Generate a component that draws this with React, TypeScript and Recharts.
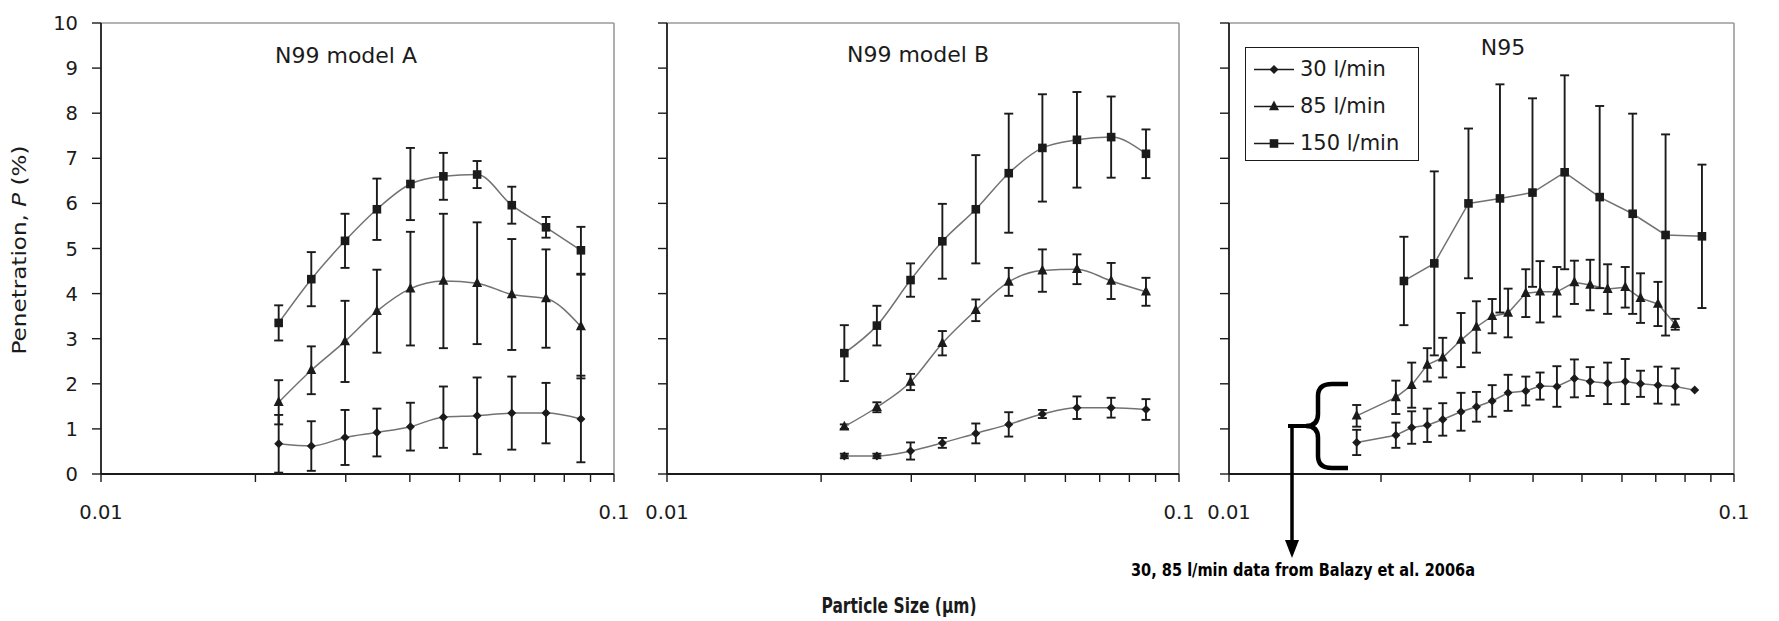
import React from 'react';
import { LineChart, Line, XAxis, YAxis, ErrorBar, ReferenceLine, Legend } from 'recharts';

// particle sizes (µm) – panels A and B share the same SMPS channels
const sizesAB = [0.0222, 0.0257, 0.0299, 0.0345, 0.0401, 0.0465, 0.0541, 0.0632, 0.0737, 0.0862];
// N95 panel: 150 l/min channels and the denser 30/85 l/min channels (Balazy et al.)
const sizesC150 = [0.0222, 0.0255, 0.0298, 0.0344, 0.0399, 0.0462, 0.0542, 0.063, 0.0732, 0.0864];
const sizesC = [
  0.0179, 0.0214, 0.023, 0.0247, 0.0265, 0.0288, 0.0309, 0.0332, 0.0357, 0.0387,
  0.0413, 0.0446, 0.0483, 0.0519, 0.0562, 0.0609, 0.0653, 0.0707, 0.0765, 0.0836,
];

// N99 model A
const aP30 = [0.67, 0.62, 0.81, 0.92, 1.05, 1.26, 1.29, 1.35, 1.35, 1.22];
const aE30 = [0.64, 0.55, 0.61, 0.53, 0.53, 0.68, 0.85, 0.81, 0.67, 0.96];
const aP85 = [1.59, 2.3, 2.94, 3.61, 4.11, 4.28, 4.23, 3.98, 3.89, 3.27];
const aE85 = [0.49, 0.53, 0.9, 0.92, 1.26, 1.49, 1.35, 1.23, 1.09, 1.15];
const aP150 = [3.35, 4.32, 5.17, 5.87, 6.43, 6.6, 6.64, 5.96, 5.47, 4.96];
const aE150 = [0.39, 0.6, 0.6, 0.68, 0.8, 0.52, 0.3, 0.41, 0.23, 0.52];

// N99 model B
const bP30 = [0.4, 0.4, 0.51, 0.69, 0.9, 1.1, 1.33, 1.47, 1.47, 1.43];
const bE30 = [0.05, 0.05, 0.19, 0.11, 0.22, 0.27, 0.09, 0.25, 0.22, 0.23];
const bP85 = [1.05, 1.48, 2.04, 2.9, 3.63, 4.26, 4.51, 4.54, 4.28, 4.04];
const bE85 = [0.05, 0.11, 0.18, 0.27, 0.24, 0.31, 0.47, 0.33, 0.4, 0.31];
const bP150 = [2.68, 3.29, 4.3, 5.16, 5.87, 6.67, 7.23, 7.41, 7.47, 7.1];
const bE150 = [0.62, 0.44, 0.37, 0.83, 1.2, 1.32, 1.19, 1.06, 0.9, 0.54];

// N95
const cP30 = [
  0.7, 0.86, 1.03, 1.08, 1.21, 1.38, 1.49, 1.62, 1.8, 1.84,
  1.95, 1.94, 2.12, 2.05, 2.01, 2.05, 2.0, 1.97, 1.94, 1.86,
];
const cE30 = [
  0.28, 0.28, 0.36, 0.37, 0.36, 0.42, 0.33, 0.35, 0.4, 0.32,
  0.3, 0.45, 0.42, 0.32, 0.46, 0.5, 0.29, 0.41, 0.4, 0,
];
const cP85 = [
  1.29, 1.7, 1.97, 2.42, 2.58, 2.97, 3.26, 3.5, 3.57, 4.01,
  4.04, 4.04, 4.25, 4.19, 4.1, 4.14, 3.9, 3.77, 3.32,
];
const cE85 = [
  0.24, 0.37, 0.5, 0.37, 0.44, 0.6, 0.57, 0.38, 0.54, 0.53,
  0.68, 0.55, 0.48, 0.56, 0.55, 0.45, 0.55, 0.49, 0.12,
];
const cP150 = [4.28, 4.67, 6.0, 6.11, 6.24, 6.69, 6.14, 5.77, 5.3, 5.27];
const cE150 = [0.98, 2.04, 1.66, 2.53, 2.09, 2.15, 2.02, 2.22, 2.23, 1.59];

const flowNames = ['30 l/min', '85 l/min', '150 l/min'];
const xTicks = [0.01, 0.02, 0.03, 0.04, 0.05, 0.06, 0.07, 0.08, 0.09, 0.1];
const xLabelled = [0.01, 0.1];
const yTicks = [0, 1, 2, 3, 4, 5, 6, 7, 8, 9, 10];

const FONT = '"DejaVu Sans", Arial, sans-serif';
const NARROW = '"Liberation Sans Narrow", "DejaVu Sans Condensed", sans-serif';
const INK = '#1b1b1b';
const LINE = '#727272';
const FRAME = '#9a9a9a';

type Kind = 'diamond' | 'triangle' | 'square';
const kindOf: Record<string, Kind> = {
  '30 l/min': 'diamond',
  '85 l/min': 'triangle',
  '150 l/min': 'square',
};

function rows(xs: number[], ps: number[], es: number[]) {
  return ps.map((p, i) => ({ x: xs[i], p, e: es[i] }));
}

function Marker({ cx, cy, kind }: { cx: number; cy: number; kind: Kind }) {
  if (cx == null || cy == null) return null;
  if (kind === 'square') return <rect x={cx - 4.3} y={cy - 4.3} width={8.6} height={8.6} fill={INK} />;
  if (kind === 'triangle')
    return <polygon points={`${cx},${cy - 6} ${cx - 5},${cy + 3.8} ${cx + 5},${cy + 3.8}`} fill={INK} />;
  return <polygon points={`${cx},${cy - 4.5} ${cx + 4.5},${cy} ${cx},${cy + 4.5} ${cx - 4.5},${cy}`} fill={INK} />;
}

function XTick(props: any) {
  const { x, y, payload } = props;
  if (!xLabelled.includes(payload.value)) return <g />;
  return (
    <text x={x} y={y} dy="0.71em" textAnchor="middle" fill={INK} fontFamily={FONT} fontSize={19.5}>
      {String(payload.value)}
    </text>
  );
}

function YTick(props: any) {
  const { x, y, payload } = props;
  return (
    <text x={x} y={y} dy="0.36em" textAnchor="end" fill={INK} fontFamily={FONT} fontSize={19.5}>
      {payload.value}
    </text>
  );
}

const NoTick = () => <g />;

function LegendBox({ payload }: any) {
  const items = [...(payload || [])].sort(
    (a: any, b: any) => flowNames.indexOf(a.value) - flowNames.indexOf(b.value)
  );
  return (
    <div
      style={{
        border: `1.5px solid ${INK}`,
        width: 174,
        height: 114,
        boxSizing: 'border-box',
        background: '#fff',
        paddingTop: 3,
      }}
    >
      {items.map((it: any) => (
        <div key={it.value} style={{ display: 'flex', alignItems: 'center', height: 37 }}>
          <svg width={54} height={37} style={{ display: 'block' }}>
            <line x1={8} y1={18.5} x2={48} y2={18.5} stroke={INK} strokeWidth={1.3} />
            <Marker cx={28} cy={18.5} kind={kindOf[it.value]} />
          </svg>
          <span style={{ fontFamily: FONT, fontSize: 21, color: INK, lineHeight: '37px' }}>{it.value}</span>
        </div>
      ))}
    </div>
  );
}

type Series = { name: string; data: { x: number; p: number; e: number }[] };

function Panel({
  plotLeft,
  plotRight,
  series,
  showY,
  smooth,
  legendLeft,
}: {
  plotLeft: number;
  plotRight: number;
  series: Series[];
  showY: boolean;
  smooth: boolean;
  legendLeft?: number;
}) {
  const yw = showY ? plotLeft : 60;
  const chartLeft = plotLeft - yw;
  const width = plotRight - chartLeft + 40;
  return (
    <div style={{ position: 'absolute', left: chartLeft, top: 0 }}>
      <LineChart width={width} height={560} margin={{ top: 23, right: 40, bottom: 26, left: 0 }}>
        <XAxis
          dataKey="x"
          type="number"
          scale="log"
          domain={[0.01, 0.1]}
          allowDataOverflow
          ticks={xTicks}
          interval={0}
          height={60}
          tickSize={8}
          tickMargin={23}
          tick={XTick}
          axisLine={{ stroke: INK, strokeWidth: 1.8 }}
          tickLine={{ stroke: INK, strokeWidth: 1.4 }}
        />
        <YAxis
          type="number"
          domain={[0, 10]}
          ticks={yTicks}
          interval={0}
          width={yw}
          tickSize={9}
          tickMargin={14}
          tick={showY ? YTick : NoTick}
          axisLine={{ stroke: INK, strokeWidth: 1.8 }}
          tickLine={{ stroke: INK, strokeWidth: 1.4 }}
        />
        <ReferenceLine y={10} stroke={FRAME} strokeWidth={1.6} ifOverflow="visible" />
        <ReferenceLine x={0.1} stroke={FRAME} strokeWidth={1.6} ifOverflow="visible" />
        {series.map((s) => (
          <Line
            key={s.name}
            name={s.name}
            data={s.data}
            dataKey="p"
            type={smooth ? 'monotone' : 'linear'}
            stroke={LINE}
            strokeWidth={1.5}
            isAnimationActive={false}
            dot={(props: any) => (
              <Marker key={`${s.name}-${props.index}`} cx={props.cx} cy={props.cy} kind={kindOf[s.name]} />
            )}
            activeDot={false}
          >
            <ErrorBar dataKey="e" direction="y" width={4.5} stroke={INK} strokeWidth={1.9} />
          </Line>
        ))}
        {legendLeft != null && (
          <Legend
            layout="vertical"
            align="center"
            verticalAlign="middle"
            wrapperStyle={{ left: legendLeft - chartLeft, top: 47, width: 174, height: 114 }}
            content={LegendBox}
          />
        )}
      </LineChart>
    </div>
  );
}

const seriesA: Series[] = [
  { name: flowNames[0], data: rows(sizesAB, aP30, aE30) },
  { name: flowNames[1], data: rows(sizesAB, aP85, aE85) },
  { name: flowNames[2], data: rows(sizesAB, aP150, aE150) },
];
const seriesB: Series[] = [
  { name: flowNames[0], data: rows(sizesAB, bP30, bE30) },
  { name: flowNames[1], data: rows(sizesAB, bP85, bE85) },
  { name: flowNames[2], data: rows(sizesAB, bP150, bE150) },
];
const seriesC: Series[] = [
  { name: flowNames[0], data: rows(sizesC, cP30, cE30) },
  { name: flowNames[1], data: rows(sizesC, cP85, cE85) },
  { name: flowNames[2], data: rows(sizesC150, cP150, cE150) },
];

export default function App() {
  return (
    <div style={{ position: 'absolute', left: 0, top: 0, width: 1779, height: 621, background: '#fff', overflow: 'hidden' }}>
      <Panel plotLeft={101} plotRight={614} series={seriesA} showY smooth />
      <Panel plotLeft={667} plotRight={1179} series={seriesB} showY={false} smooth />
      <Panel plotLeft={1229} plotRight={1734} series={seriesC} showY={false} smooth={false} legendLeft={1245} />
      <svg
        width={1779}
        height={621}
        style={{ position: 'absolute', left: 0, top: 0, pointerEvents: 'none' }}
      >
        <g fontFamily={FONT} fill={INK} fontSize={22} textAnchor="middle">
          <text x={346} y={63}>N99 model A</text>
          <text x={918} y={62}>N99 model B</text>
          <text x={1503} y={55}>N95</text>
        </g>
        <text
          transform="translate(26,250) rotate(-90)"
          textAnchor="middle"
          fontFamily={FONT}
          fontSize={20}
          fill={INK}
          textLength={209}
          lengthAdjust="spacingAndGlyphs"
        >
          Penetration, <tspan fontStyle="italic">P</tspan> (%)
        </text>
        <text
          x={899}
          y={613}
          textAnchor="middle"
          fontFamily={NARROW}
          fontWeight="bold"
          fontSize={22}
          fill={INK}
          textLength={155}
          lengthAdjust="spacingAndGlyphs"
        >
          Particle Size (µm)
        </text>
        {/* brace + arrow pointing at the Balazy data */}
        <path
          d="M1348,384 L1332,384 Q1318,384 1318,396 L1318,414 Q1318,426 1306,426 Q1318,426 1318,438 L1318,456 Q1318,468 1332,468 L1348,468"
          fill="none"
          stroke="#000"
          strokeWidth={4.5}
        />
        <path d="M1306,426 L1288,426" stroke="#000" strokeWidth={4} />
        <path d="M1292,424 L1292,545" stroke="#000" strokeWidth={3.5} />
        <polygon points="1285,540 1299,540 1292,558" fill="#000" />
        <text
          x={1131}
          y={576}
          fontFamily={NARROW}
          fontWeight="bold"
          fontSize={17}
          fill="#000"
          textLength={344}
          lengthAdjust="spacingAndGlyphs"
        >
          30, 85 l/min data from Balazy et al. 2006a
        </text>
      </svg>
    </div>
  );
}
